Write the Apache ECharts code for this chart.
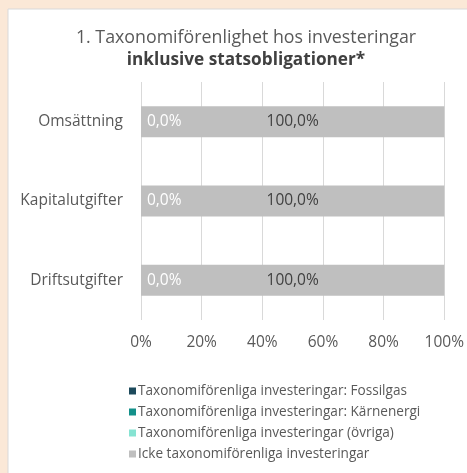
<!DOCTYPE html>
<html><head><meta charset="utf-8">
<script src="https://cdn.jsdelivr.net/npm/echarts@6/dist/echarts.min.js"></script>
<style>html,body{margin:0;padding:0;background:#fbe8d7;}#c{width:467px;height:473px;}</style>
</head><body><div id="c"></div>
<script>
var categories = ['Omsättning', 'Kapitalutgifter', 'Driftsutgifter'];
var fossilgas = [0, 0, 0];
var karnenergi = [0, 0, 0];
var ovriga = [0, 0, 0];
var icke = [100, 100, 100];
var seriesNames = ['Taxonomiförenliga investeringar: Fossilgas', 'Taxonomiförenliga investeringar: Kärnenergi', 'Taxonomiförenliga investeringar (övriga)', 'Icke taxonomiförenliga investeringar'];
var colors = ['#1d4a5c', '#13908a', '#86e3d2', '#bfbfbf'];
var xTicks = [0, 20, 40, 60, 80, 100];

var FONT = 'Open Sans';
var fmt = function (p) { return p.value.toFixed(1).replace('.', ',') + '%'; };
var chart = echarts.init(document.getElementById('c'));
chart.setOption({
  animation: false,
  backgroundColor: '#fbe8d7',
  textStyle: { fontFamily: FONT },
  graphic: [{ type: 'rect', shape: { x: 8, y: 9, width: 470, height: 470 }, style: { fill: '#ffffff', stroke: '#d9d9d9', lineWidth: 1 }, z: -10 }],
  title: {
    left: 241, top: 21, textAlign: 'center',
    text: '1. Taxonomiförenlighet hos investeringar\n{b|inklusive statsobligationer*}',
    textStyle: { fontFamily: FONT, fontSize: 17.8, fontWeight: 'normal', color: '#595959', lineHeight: 23,
      rich: { b: { fontFamily: FONT, fontSize: 17.2, fontWeight: 'bold', color: '#404040', lineHeight: 23 } } }
  },
  legend: {
    orient: 'vertical', left: 124, top: 379, itemWidth: 7, itemHeight: 7, itemGap: 7, icon: 'rect',
    textStyle: { fontFamily: FONT, fontSize: 13.6, lineHeight: 14, color: '#595959', padding: [0, 0, 0, -3] },
    data: seriesNames
  },
  grid: { left: 141, right: 21, top: 82, bottom: 153, containLabel: false },
  xAxis: {
    type: 'value', min: 0, max: 100, interval: 20,
    axisLabel: { formatter: function (v) { return xTicks.indexOf(v) >= 0 ? v + '%' : ''; }, color: '#595959', fontSize: 15.5, margin: 15, fontFamily: FONT },
    axisLine: { show: false }, axisTick: { show: false },
    splitLine: { show: true, lineStyle: { color: '#d9d9d9', width: 1 } }
  },
  yAxis: {
    type: 'category', data: categories, inverse: true,
    axisLabel: { color: '#595959', fontSize: 15.5, margin: 18, fontFamily: FONT },
    axisLine: { show: false }, axisTick: { show: false }
  },
  series: [
    { name: seriesNames[0], type: 'bar', stack: 's', data: fossilgas, itemStyle: { color: colors[0] }, barWidth: '39%' },
    { name: seriesNames[1], type: 'bar', stack: 's', data: karnenergi, itemStyle: { color: colors[1] } },
    { name: seriesNames[2], type: 'bar', stack: 's', data: ovriga, itemStyle: { color: colors[2] },
      label: { show: true, position: 'right', distance: 6, color: '#ffffff', fontSize: 15.5, fontFamily: FONT, formatter: fmt } },
    { name: seriesNames[3], type: 'bar', stack: 's', data: icke, itemStyle: { color: colors[3] },
      label: { show: true, position: 'inside', color: '#404040', fontSize: 15.5, fontFamily: FONT, formatter: fmt } }
  ]
});
</script></body></html>
